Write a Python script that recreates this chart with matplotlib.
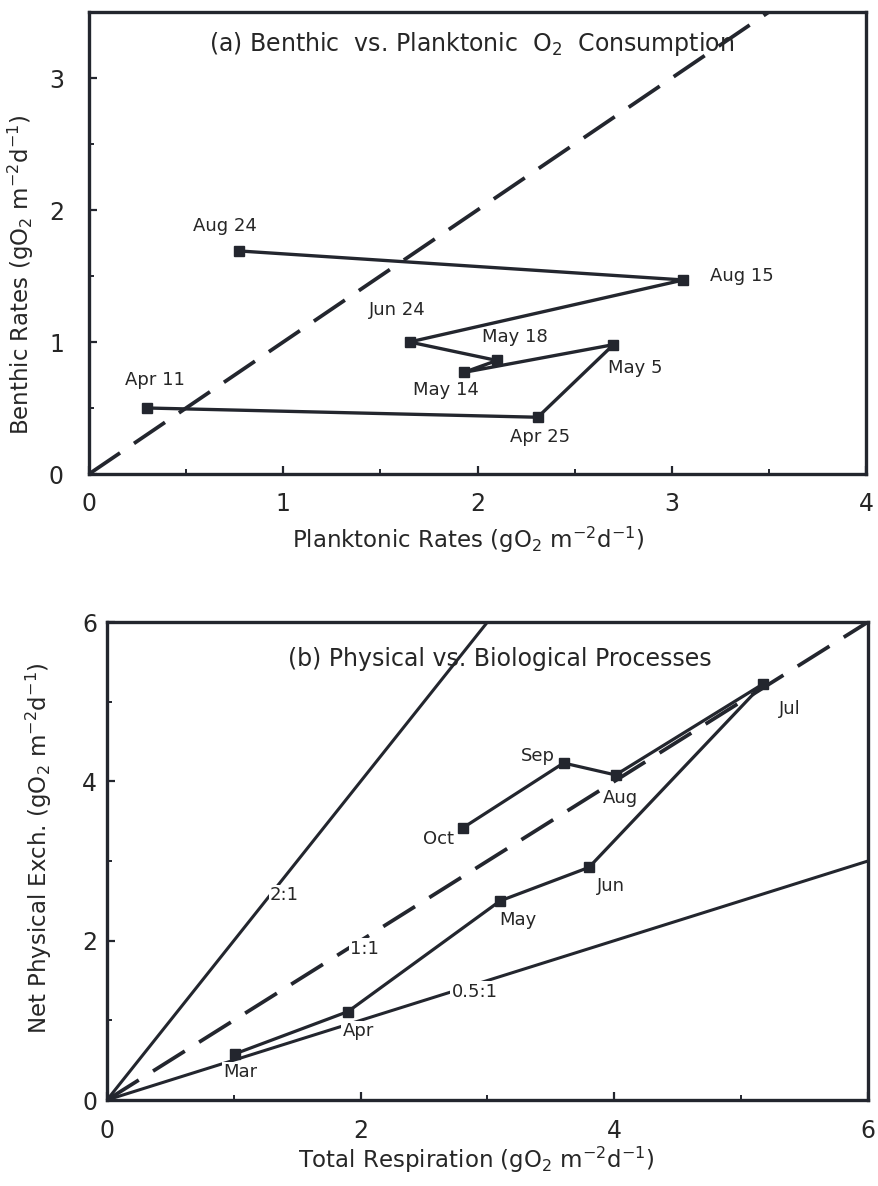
import matplotlib
matplotlib.use("Agg")
import matplotlib.pyplot as plt
from matplotlib.ticker import MultipleLocator

plt.rcParams['font.family'] = ['DejaVu Sans']
plt.rcParams['mathtext.fontset'] = 'dejavusans'

# (a) benthic vs planktonic oxygen consumption, sampling dates in order
dates_a = ["Apr 11", "Apr 25", "May 5", "May 14", "May 18", "Jun 24", "Aug 15", "Aug 24"]
planktonic = [0.30, 2.31, 2.70, 1.93, 2.10, 1.65, 3.06, 0.77]
benthic = [0.50, 0.43, 0.98, 0.77, 0.86, 1.00, 1.47, 1.69]
label_pos_a = [(0.34, 0.71), (2.32, 0.28), (2.81, 0.80), (1.84, 0.64),
               (2.19, 1.04), (1.585, 1.24), (3.36, 1.50), (0.70, 1.88)]

# (b) physical exchange vs total respiration, monthly
months_b = ["Mar", "Apr", "May", "Jun", "Jul", "Aug", "Sep", "Oct"]
respiration = [1.01, 1.90, 3.10, 3.80, 5.17, 4.01, 3.60, 2.81]
phys_exch = [0.58, 1.11, 2.50, 2.92, 5.22, 4.08, 4.23, 3.42]
label_pos_b = [(1.05, 0.35), (1.98, 0.86), (3.24, 2.26), (3.97, 2.69),
               (5.38, 4.91), (4.05, 3.79), (3.40, 4.32), (2.61, 3.27)]

# reference ratio lines in (b)
ratios = [2.0, 1.0, 0.5]
ratio_labels = ["2:1", "1:1", "0.5:1"]
ratio_styles = ["solid", "dashed", "solid"]
ratio_label_pos = [(1.40, 2.57), (2.03, 1.90), (2.90, 1.36)]

INK = "#23262e"
TXT = "#262626"
DASH = (0, (10, 4.5))

fig = plt.figure(figsize=(8.79, 11.86), dpi=100)

ax1 = fig.add_axes([89/879, 1-474/1186, 777/879, 462/1186])
ax2 = fig.add_axes([107/879, 1-1100/1186, 761/879, 478/1186])

for ax in (ax1, ax2):
    for s in ax.spines.values():
        s.set_linewidth(2.4)
        s.set_color(INK)
    ax.tick_params(which='both', direction='in', top=False, right=False,
                   color=INK, labelcolor=TXT, labelsize=17)
    ax.tick_params(which='major', length=5.5, width=1.6)
    ax.tick_params(which='minor', length=3.5, width=1.4)

# ---- panel (a)
ax1.set_xlim(0, 4)
ax1.set_ylim(0, 3.5)
ax1.xaxis.set_major_locator(MultipleLocator(1))
ax1.xaxis.set_minor_locator(MultipleLocator(0.5))
ax1.yaxis.set_major_locator(MultipleLocator(1))
ax1.yaxis.set_minor_locator(MultipleLocator(0.5))
ax1.tick_params(axis='y', pad=18)
ax1.tick_params(axis='x', pad=13)

ax1.plot([0, 4], [0, 4], color=INK, lw=2.7, linestyle=DASH, zorder=2)
ax1.plot(planktonic, benthic, color=INK, lw=2.4, marker='s', ms=6.5,
         mfc=INK, mec=INK, zorder=4)
for name, (lx, ly) in zip(dates_a, label_pos_a):
    ax1.text(lx, ly, name, fontsize=13, color=TXT, ha='center', va='center')

ax1.text(1.97, 3.26, r'(a) Benthic  vs. Planktonic  O$_2$  Consumption',
         fontsize=17, color=TXT, ha='center', va='center')

ax1.set_xlabel(r'Planktonic Rates (gO$_2$ m$^{-2}$d$^{-1}$)', fontsize=16.5, color=TXT)
ax1.set_ylabel(r'Benthic Rates (gO$_2$ m$^{-2}$d$^{-1}$)', fontsize=16.5, color=TXT)
ax1.xaxis.set_label_coords(0.488, -0.143)
ax1.xaxis.label.set_va('center')
ax1.yaxis.set_label_coords(-0.088, 0.431)
ax1.yaxis.label.set_va('center')

# ---- panel (b)
ax2.set_xlim(0, 6)
ax2.set_ylim(0, 6)
ax2.xaxis.set_major_locator(MultipleLocator(2))
ax2.xaxis.set_minor_locator(MultipleLocator(1))
ax2.yaxis.set_major_locator(MultipleLocator(2))
ax2.yaxis.set_minor_locator(MultipleLocator(1))
ax2.tick_params(axis='y', pad=7)
ax2.tick_params(axis='x', pad=14)

for r, ls in zip(ratios, ratio_styles):
    style = DASH if ls == "dashed" else "solid"
    lw = 2.7 if ls == "dashed" else 2.2
    ax2.plot([0, 6], [0, 6 * r], color=INK, lw=lw, linestyle=style, zorder=2)
for name, (lx, ly) in zip(ratio_labels, ratio_label_pos):
    ax2.text(lx, ly, name, fontsize=13, color=TXT, ha='center', va='center', zorder=3,
             bbox=dict(boxstyle='square,pad=0.08', fc='white', ec='none'))

ax2.plot(respiration, phys_exch, color=INK, lw=2.3, marker='s', ms=6.5,
         mfc=INK, mec=INK, zorder=4)
for name, (lx, ly) in zip(months_b, label_pos_b):
    ax2.text(lx, ly, name, fontsize=13, color=TXT, ha='center', va='center', zorder=3,
             bbox=dict(boxstyle='square,pad=0.08', fc='white', ec='none'))

ax2.text(3.10, 5.54, '(b) Physical vs. Biological Processes',
         fontsize=17, color=TXT, ha='center', va='center')

ax2.set_xlabel(r'Total Respiration (gO$_2$ m$^{-2}$d$^{-1}$)', fontsize=16.5, color=TXT)
ax2.set_ylabel(r'Net Physical Exch. (gO$_2$ m$^{-2}$d$^{-1}$)', fontsize=16.5, color=TXT)
ax2.xaxis.set_label_coords(0.485, -0.1255)
ax2.xaxis.label.set_va('center')
ax2.yaxis.set_label_coords(-0.089, 0.527)
ax2.yaxis.label.set_va('center')

fig.savefig("out.png", dpi=100, facecolor='white')
